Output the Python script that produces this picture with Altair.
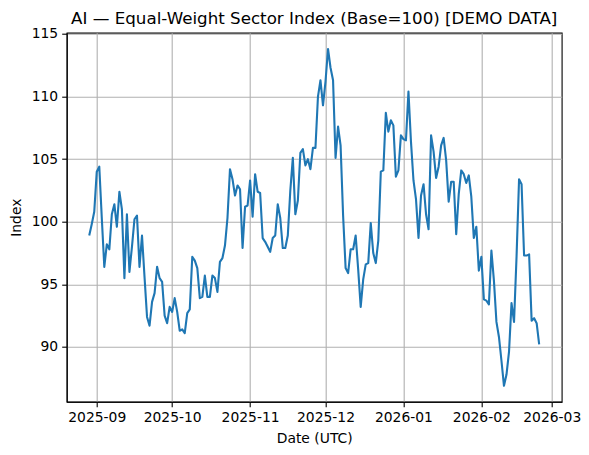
import altair as alt
import pandas as pd

# ---- data ----
start_date = "2025-08-29"
index_values = [
    98.9, 99.8, 100.8, 104.0, 104.4, 100.3, 96.4, 98.2, 97.8, 100.6,
    101.4, 99.6, 102.4, 101.0, 95.5, 100.6, 96.0, 98.0, 100.2, 100.5,
    96.4, 98.9, 95.6, 92.4, 91.7, 93.6, 94.3, 96.4, 95.5, 95.2,
    92.5, 91.9, 93.2, 92.8, 93.9, 92.8, 91.3, 91.4, 91.1, 92.7,
    93.0, 97.2, 96.9, 96.3, 93.9, 94.0, 95.7, 94.0, 94.0, 95.7,
    95.5, 94.4, 96.8, 97.1, 98.1, 100.3, 104.2, 103.4, 102.1, 102.9,
    102.6, 97.9, 101.2, 101.3, 103.3, 100.4, 103.8, 102.4, 102.3, 98.7,
    98.4, 98.0, 97.6, 98.7, 98.9, 101.4, 100.3, 97.9, 97.9, 98.9,
    102.5, 105.1, 100.6, 101.7, 105.5, 105.8, 104.5, 105.0, 104.2, 105.9,
    105.9, 110.0, 111.3, 109.3, 111.2, 113.8, 112.3, 111.3, 105.1, 107.6,
    106.1, 100.5, 96.3, 95.9, 97.8, 97.8, 98.9, 96.2, 93.2, 95.4,
    96.6, 96.7, 99.9, 97.5, 96.7, 98.5, 104.0, 104.1, 108.7, 107.2,
    108.1, 107.7, 103.6, 104.1, 106.9, 106.6, 106.5, 110.4, 106.4, 103.3,
    101.8, 98.7, 102.1, 103.0, 100.6, 99.4, 106.9, 105.6, 103.5, 104.4,
    106.1, 106.7, 104.9, 101.6, 103.2, 103.2, 99.0, 102.2, 104.1, 103.8,
    103.1, 103.7, 102.0, 98.7, 99.6, 96.1, 97.2, 93.8, 93.7, 93.4,
    97.7, 95.3, 92.0, 90.8, 88.9, 86.9, 87.8, 89.6, 93.5, 92.0,
    97.2, 103.4, 103.0, 97.3, 97.3, 97.4, 92.1, 92.3, 91.9, 90.2,
]
x_tick_dates = [(2025, 9), (2025, 10), (2025, 11), (2025, 12), (2026, 1), (2026, 2), (2026, 3)]
y_ticks = [90, 95, 100, 105, 110, 115]
title_text = "AI \u2014 Equal-Weight Sector Index (Base=100) [DEMO DATA]"
x_title = "Date (UTC)"
y_title = "Index"

dates = pd.date_range(start_date, periods=len(index_values), freq="D").strftime("%Y-%m-%d")
df = pd.DataFrame({"date": list(dates), "value": index_values})
title_df = pd.DataFrame({"label": [title_text]})

FONT = "DejaVu Sans"
W, H = 495, 369

x_values = [alt.DateTime(year=y, month=m, date=1, utc=True) for (y, m) in x_tick_dates]
x_domain = [
    alt.DateTime(year=2025, month=8, date=20, hours=1, utc=True),
    alt.DateTime(year=2026, month=3, date=4, hours=23, utc=True),
]

line = (
    alt.Chart(df)
    .mark_line(color="#1f77b4", strokeWidth=2.1, strokeJoin="round", strokeCap="butt")
    .encode(
        x=alt.X(
            "date:T",
            scale=alt.Scale(type="utc", domain=x_domain, nice=False),
            axis=alt.Axis(
                values=x_values,
                labelExpr="utcFormat(datum.value, '%Y-%m')",
                title=x_title,
                titleX=W / 2,
                titleY=36.5,
                titleAlign="center",
                titleBaseline="middle",
                labelFlush=False,
                labelOverlap=False,
            ),
        ),
        y=alt.Y(
            "value:Q",
            scale=alt.Scale(domain=[85.63, 115.1], nice=False, zero=False),
            axis=alt.Axis(
                values=y_ticks,
                title=y_title,
                titleX=-50.5,
                titleY=H / 2,
                titleAngle=270,
                titleAlign="center",
                titleBaseline="middle",
            ),
        ),
    )
)

title_mark = (
    alt.Chart(title_df)
    .mark_text(
        font=FONT,
        fontSize=16.7,
        fontWeight="normal",
        color="black",
        align="center",
        baseline="alphabetic",
    )
    .encode(
        text="label:N",
        x=alt.value(W / 2),
        y=alt.value(-8.4),
    )
)

chart = (
    alt.layer(line, title_mark)
    .properties(
        width=W,
        height=H,
        autosize=alt.AutoSizeParams(type="none"),
        padding={"left": 58.7, "top": 24.7, "right": 19, "bottom": 45},
        background="white",
    )
    .configure_view(stroke="black", strokeWidth=1.1)
    .configure_axis(
        domainColor="black",
        domainWidth=1.1,
        tickColor="black",
        tickWidth=1.1,
        tickSize=5,
        labelPadding=4,
        labelFont=FONT,
        labelFontSize=13.9,
        labelColor="black",
        titleFont=FONT,
        titleFontSize=13.9,
        titleFontWeight="normal",
        titleColor="black",
        grid=True,
        gridColor="#b0b0b0",
        gridWidth=1.1,
    )
)

chart.save("out.html", embed_options={"renderer": "svg", "actions": False})
